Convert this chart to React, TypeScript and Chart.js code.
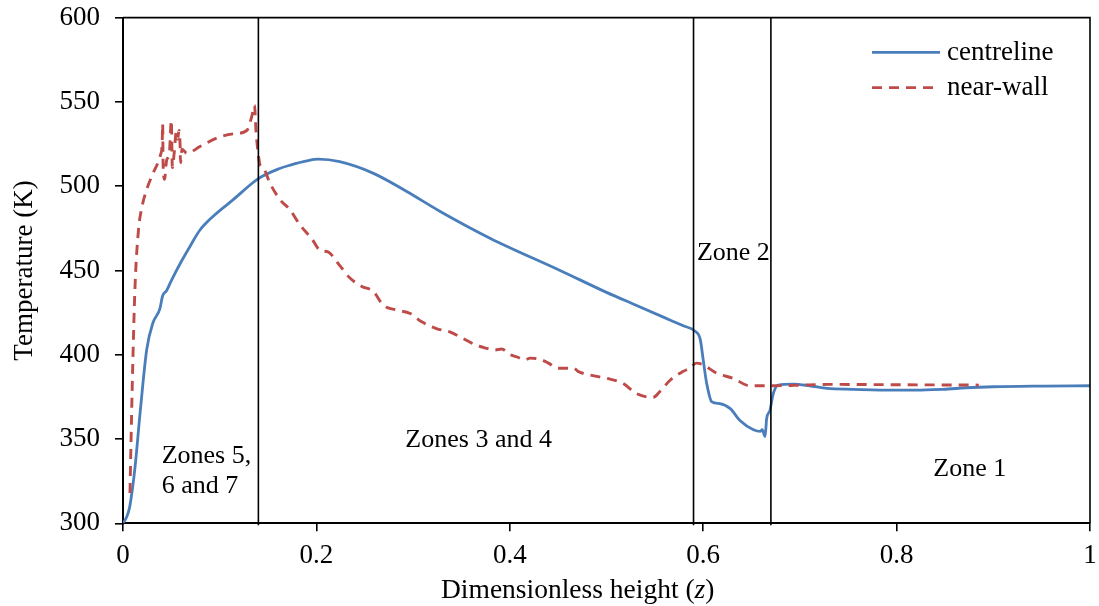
import React, { useEffect, useRef } from "react";
import { Chart, registerables } from "chart.js";

Chart.register(...registerables);

// ---------- data ----------
const centrelineZ = [
  0, 0.004, 0.007, 0.0124, 0.0176, 0.0245, 0.031, 0.038, 0.041, 0.045, 0.05, 0.059, 0.07, 0.0796,
  0.093, 0.114, 0.14, 0.162, 0.173, 0.19, 0.202, 0.224, 0.259, 0.293, 0.328, 0.38, 0.452, 0.5, 0.53,
  0.56, 0.58, 0.5915, 0.597, 0.6, 0.6036, 0.609, 0.617, 0.628, 0.638, 0.652, 0.659, 0.661, 0.664,
  0.6656, 0.669, 0.6725, 0.6776, 0.693, 0.71, 0.728, 0.755, 0.797, 0.848, 0.872, 0.9, 0.952, 1.0,
];
const centrelineT = [
  300, 304, 310, 333, 365, 403, 419, 427, 435, 438, 444, 454, 465, 474,
  482, 492, 504.5, 510.5, 512.5, 515, 516, 514.5, 507.6, 497, 485, 469, 450, 437, 429.5,
  422, 417, 414, 409, 397, 383, 372, 371, 368, 361, 355.5, 354.5, 355.5, 351.5,
  362, 367, 377, 382, 382.6, 381.6, 380, 379.5, 379, 379.5, 380.4, 381, 381.4, 381.6,
];

const nearWallZ = [
  0.0072, 0.0095, 0.0124, 0.016, 0.019, 0.0245, 0.031, 0.0365, 0.039, 0.0405, 0.041, 0.0415, 0.043,
  0.045, 0.048, 0.05, 0.0505, 0.051, 0.053, 0.055, 0.0565, 0.058, 0.059, 0.0595, 0.061, 0.066,
  0.0796, 0.097, 0.114, 0.128, 0.133, 0.136, 0.1375, 0.14, 0.1417, 0.145, 0.152, 0.1624, 0.1727,
  0.183, 0.195, 0.2037, 0.212, 0.224, 0.2347, 0.247, 0.259, 0.269, 0.283, 0.297, 0.309, 0.324,
  0.338, 0.352, 0.366, 0.3726, 0.3847, 0.3916, 0.4, 0.407, 0.4157, 0.421, 0.433, 0.44, 0.45,
  0.466, 0.471, 0.483, 0.5036, 0.517, 0.531, 0.548, 0.555, 0.566, 0.579, 0.586, 0.593, 0.6,
  0.614, 0.631, 0.648, 0.672, 0.693, 0.73, 0.8, 0.885,
];
const nearWallT = [
  318, 380, 440, 474, 486, 498, 507.5, 514.5, 519, 525, 537, 512, 504,
  515, 520, 539, 525, 511, 520, 532, 528, 533, 525, 514, 522, 519.5,
  523.5, 528.5, 531, 533, 541, 548, 533, 518.5, 512.5, 511, 501.7, 492, 486,
  477, 469, 462, 461, 453, 445.5, 440.5, 437.5, 429.5, 426.5, 424.5, 419.5, 415.5,
  413.5, 409.5, 405.5, 404.4, 402.8, 403.4, 400.2, 398.8, 397, 398, 397, 395, 392,
  392, 390, 388, 385.5, 383, 377, 374.7, 378, 385, 390, 392, 395, 394,
  389, 386, 381.6, 381.6, 381.8, 382.4, 382.2, 382,
];

const yTickValues = [300, 350, 400, 450, 500, 550, 600];
const xTickValues = [0, 0.2, 0.4, 0.6, 0.8, 1];
const zoneBoundaries = [0.14, 0.59, 0.67];
const zoneLabelLines = [["Zones 5,", "6 and 7"], ["Zones 3 and 4"], ["Zone 2"], ["Zone 1"]];
const seriesLabels = ["centreline", "near-wall"];

// ---------- styles ----------
const FONT = '"Liberation Serif", "Times New Roman", Times, serif';
const BLUE = "#4A7EBB";
const RED = "#BE4B48";
const FS = 27;

const overlayPlugin = {
  id: "overlay",
  afterDatasetsDraw(chart: any) {
    const { ctx, chartArea: a, scales } = chart;
    const x = scales.x;
    const y = scales.y;
    ctx.save();
    // zone boundary lines
    ctx.strokeStyle = "#000";
    ctx.lineWidth = 1.6;
    zoneBoundaries.forEach((z) => {
      const px = x.getPixelForValue(z);
      ctx.beginPath();
      ctx.moveTo(px, a.top);
      ctx.lineTo(px, a.bottom + 2);
      ctx.stroke();
    });
    // frame top & right
    ctx.beginPath();
    ctx.moveTo(a.left, a.top);
    ctx.lineTo(a.right, a.top);
    ctx.lineTo(a.right, a.bottom);
    ctx.stroke();

    // zone labels (anchored in data coordinates)
    ctx.fillStyle = "#000";
    ctx.font = `${FS - 1}px ${FONT}`;
    ctx.textAlign = "left";
    ctx.textBaseline = "alphabetic";
    const labelPos = [
      [0.04, 335.6],
      [0.292, 345.4],
      [0.5935, 456.2],
      [0.838, 328],
    ];
    zoneLabelLines.forEach((lines, i) => {
      const px = x.getPixelForValue(labelPos[i][0]);
      const py = y.getPixelForValue(labelPos[i][1]);
      lines.forEach((ln, j) => ctx.fillText(ln, px, py + j * 30));
    });

    // legend
    ctx.font = `${FS}px ${FONT}`;
    const legendRows = [
      { color: BLUE, dash: [] as number[], yLine: 52.3, yText: 60 },
      { color: RED, dash: [10, 7], yLine: 87.7, yText: 95 },
    ];
    legendRows.forEach((r, i) => {
      ctx.strokeStyle = r.color;
      ctx.lineWidth = 2.8;
      ctx.setLineDash(r.dash);
      ctx.beginPath();
      ctx.moveTo(872, r.yLine);
      ctx.lineTo(940, r.yLine);
      ctx.stroke();
      ctx.setLineDash([]);
      ctx.fillText(seriesLabels[i], 947, r.yText);
    });

    // x-axis title
    const t1 = "Dimensionless height (";
    const t2 = "z";
    const t3 = ")";
    const tfs = FS + 0.5;
    ctx.font = `${tfs}px ${FONT}`;
    const w1 = ctx.measureText(t1).width;
    ctx.font = `italic ${tfs}px ${FONT}`;
    const w2 = ctx.measureText(t2).width;
    let sx = 441;
    const by = 598;
    ctx.font = `${tfs}px ${FONT}`;
    ctx.fillText(t1, sx, by);
    sx += w1;
    ctx.font = `italic ${tfs}px ${FONT}`;
    ctx.fillText(t2, sx, by);
    sx += w2;
    ctx.font = `${tfs}px ${FONT}`;
    ctx.fillText(t3, sx, by);

    // y-axis title
    ctx.save();
    ctx.translate(31.5, 270.5);
    ctx.rotate(-Math.PI / 2);
    ctx.textAlign = "center";
    ctx.font = `${FS}px ${FONT}`;
    ctx.fillText("Temperature (K)", 0, 0);
    ctx.restore();

    ctx.restore();
  },
};

export default function App() {
  const ref = useRef<HTMLCanvasElement | null>(null);

  useEffect(() => {
    document.body.style.margin = "0";
    const canvas = ref.current;
    if (!canvas) return;
    const chart = new Chart(canvas, {
      type: "line",
      data: {
        datasets: [
          {
            label: seriesLabels[0],
            data: centrelineZ.map((z, i) => ({ x: z, y: centrelineT[i] })),
            borderColor: BLUE,
            backgroundColor: BLUE,
            borderWidth: 2.8,
            pointRadius: 0,
            cubicInterpolationMode: "monotone",
            fill: false,
            order: 2,
          },
          {
            label: seriesLabels[1],
            data: nearWallZ.map((z, i) => ({ x: z, y: nearWallT[i] })),
            borderColor: RED,
            backgroundColor: RED,
            borderWidth: 2.9,
            borderDash: [10, 7],
            pointRadius: 0,
            cubicInterpolationMode: "monotone",
            fill: false,
            order: 1,
          },
        ],
      },
      options: {
        responsive: false,
        animation: false,
        events: [],
        layout: { padding: { top: 17.6, right: 9, left: 0, bottom: 0 } },
        plugins: {
          legend: { display: false },
          tooltip: { enabled: false },
        },
        scales: {
          x: {
            type: "linear",
            min: 0,
            max: 1,
            afterBuildTicks: (s: any) => {
              s.ticks = xTickValues.map((v) => ({ value: v }));
            },
            afterFit: (s: any) => {
              s.height = 606 - 523.3;
              s.paddingLeft = 0;
              s.paddingRight = 0;
            },
            ticks: {
              color: "#000",
              font: { family: FONT, size: FS },
              padding: 8,
              maxRotation: 0,
              autoSkip: false,
              callback: (v: any) => String(+(+v).toFixed(1)),
            },
            grid: {
              drawOnChartArea: false,
              drawTicks: true,
              tickLength: 8,
              color: "#000",
              lineWidth: 1.6,
            },
            border: { display: true, color: "#000", width: 2 },
          },
          y: {
            type: "linear",
            min: 300,
            max: 600,
            afterBuildTicks: (s: any) => {
              s.ticks = yTickValues.map((v) => ({ value: v }));
            },
            afterFit: (s: any) => {
              s.width = 123;
              s.paddingTop = 0;
              s.paddingBottom = 0;
            },
            ticks: {
              color: "#000",
              font: { family: FONT, size: FS },
              padding: 15,
              autoSkip: false,
            },
            grid: {
              drawOnChartArea: false,
              drawTicks: true,
              tickLength: 8,
              color: "#000",
              lineWidth: 1.6,
            },
            border: { display: true, color: "#000", width: 2 },
          },
        },
      },
      plugins: [overlayPlugin],
    });
    return () => chart.destroy();
  }, []);

  return (
    <div style={{ position: "absolute", left: 0, top: 0, width: 1099, height: 606, background: "#fff" }}>
      <canvas ref={ref} width={1099} height={606} style={{ display: "block" }} />
    </div>
  );
}
